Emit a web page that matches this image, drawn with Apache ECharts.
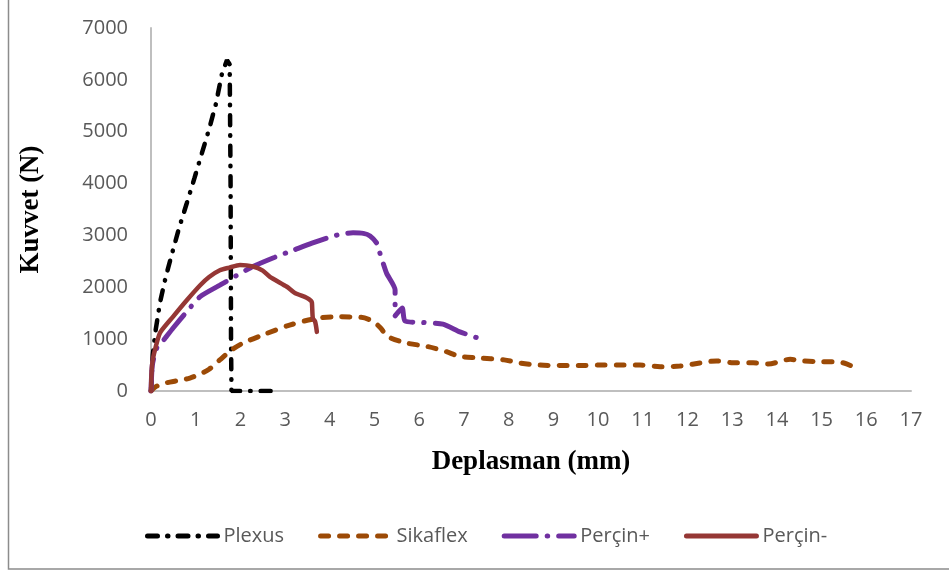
<!DOCTYPE html>
<html>
<head>
<meta charset="utf-8">
<script src="https://cdn.jsdelivr.net/npm/echarts@6/dist/echarts.min.js"></script>
<style>
  html, body { margin: 0; padding: 0; background: #fff; }
  #chart { width: 949px; height: 574px; }
</style>
</head>
<body>
<div id="chart"></div>
<script>
// Force–displacement curves (Kuvvet vs Deplasman)
const seriesNames = ['Plexus', 'Sikaflex', 'Perçin+', 'Perçin-'];

const plexusX = [0, 0.04, 0.1, 0.2, 0.33, 0.47, 0.63, 0.8, 0.97, 1.14, 1.3, 1.45, 1.59, 1.7, 1.76, 1.78, 1.79, 1.8, 2.3, 2.8];
const plexusY = [0, 700, 1150, 1700, 2200, 2650, 3150, 3620, 4100, 4590, 5050, 5530, 6130, 6380, 6300, 4000, 1000, 0, 0, 0];

const sikaflexX = [0, 0.1, 0.31, 0.6, 0.87, 1.1, 1.3, 1.54, 1.8, 2.06, 2.5, 3.1, 3.7, 4.2, 4.7, 4.95, 5.12, 5.3, 5.72, 6.17, 6.6, 6.9, 7.3, 7.9, 8.25, 8.7, 9.15, 9.6, 10.04, 10.5, 10.94, 11.39, 11.83, 12.28, 12.65, 13.02, 13.47, 13.8, 14.3, 14.52, 14.97, 15.26, 15.5, 15.75];
const sikaflexY = [0, 80, 150, 200, 250, 330, 420, 600, 790, 925, 1080, 1270, 1400, 1430, 1420, 1350, 1230, 1050, 925, 860, 760, 670, 640, 600, 540, 500, 490, 490, 500, 500, 500, 470, 480, 540, 580, 545, 545, 520, 610, 585, 565, 565, 540, 450];

const percinPlusX = [0, 0.03, 0.13, 0.3, 0.49, 0.8, 1.1, 1.54, 1.9, 2.28, 2.77, 3.2, 3.6, 4.04, 4.3, 4.52, 4.75, 4.9, 5.05, 5.12, 5.27, 5.46, 5.46, 5.62, 5.68, 6.09, 6.53, 6.91, 7.32];
const percinPlusY = [0, 500, 830, 1000, 1210, 1530, 1820, 2040, 2220, 2400, 2580, 2720, 2850, 2980, 3030, 3050, 3040, 2990, 2850, 2660, 2270, 1950, 1450, 1600, 1350, 1320, 1290, 1140, 1020];

const percinMinusX = [0, 0.01, 0.03, 0.07, 0.2, 0.49, 0.8, 1.1, 1.3, 1.54, 1.75, 1.99, 2.28, 2.5, 2.66, 3.04, 3.22, 3.48, 3.58, 3.6, 3.62, 3.67, 3.71];
const percinMinusY = [0, 300, 550, 730, 1120, 1430, 1750, 2040, 2200, 2330, 2380, 2430, 2400, 2320, 2200, 2010, 1890, 1800, 1740, 1700, 1400, 1340, 1140];

const pairs = (xs, ys) => xs.map((x, i) => [x, ys[i]]);

const labelFont = '"Open Sans", "Noto Sans", sans-serif';
const titleFont = '"Liberation Serif", "DejaVu Serif", serif';

const chart = echarts.init(document.getElementById('chart'), null, { renderer: 'canvas' });

chart.setOption({
  backgroundColor: '#ffffff',
  animation: false,
  graphic: [{
    type: 'rect',
    shape: { x: 8.5, y: -3, width: 960, height: 572 },
    style: { fill: 'none', stroke: '#8c8c8c', lineWidth: 1.5 },
    silent: true
  }],
  grid: { left: 151, right: 38, top: 28, bottom: 183 },
  legend: {
    left: 140,
    top: 521,
    itemWidth: 70,
    itemHeight: 16,
    itemGap: 34,
    itemStyle: { opacity: 0 },
    lineStyle: { width: 5, cap: 'round' },
    textStyle: { fontFamily: labelFont, fontSize: 20, color: '#595959', padding: [0, 0, 0, 1] },
    data: seriesNames
  },
  xAxis: {
    type: 'value',
    min: 0, max: 17, interval: 1,
    name: 'Deplasman (mm)',
    nameLocation: 'middle',
    nameGap: 58,
    nameTextStyle: { fontFamily: titleFont, fontWeight: 'bold', fontSize: 27, color: '#000' },
    axisLine: { show: true, lineStyle: { color: '#bfbfbf', width: 2 } },
    axisTick: { show: false },
    splitLine: { show: false },
    axisLabel: { margin: 19, fontFamily: labelFont, fontSize: 20, color: '#595959' }
  },
  yAxis: {
    type: 'value',
    min: 0, max: 7000, interval: 1000,
    name: 'Kuvvet (N)',
    nameLocation: 'middle',
    nameGap: 106,
    nameRotate: 90,
    nameTextStyle: { fontFamily: titleFont, fontWeight: 'bold', fontSize: 27, color: '#000' },
    axisLine: { show: true, lineStyle: { color: '#bfbfbf', width: 2 } },
    axisTick: { show: false },
    splitLine: { show: false },
    axisLabel: {
      margin: 23, fontFamily: labelFont, fontSize: 20, color: '#595959',
      formatter: (v) => String(v)
    }
  },
  series: [
    {
      name: 'Plexus', type: 'line', symbol: 'none', smooth: false,
      data: pairs(plexusX, plexusY),
      itemStyle: { color: '#000000' },
      lineStyle: { color: '#000000', width: 4.5, type: [10, 10, 0.5, 10], cap: 'round' }
    },
    {
      name: 'Sikaflex', type: 'line', symbol: 'none', smooth: 0.3,
      data: pairs(sikaflexX, sikaflexY),
      itemStyle: { color: '#9c4a06' },
      lineStyle: { color: '#9c4a06', width: 5, type: [8, 11], cap: 'round' }
    },
    {
      name: 'Perçin+', type: 'line', symbol: 'none', smooth: 0.2,
      data: pairs(percinPlusX, percinPlusY),
      itemStyle: { color: '#7030a0' },
      lineStyle: { color: '#7030a0', width: 5, type: [32, 11, 0.5, 11], cap: 'round' }
    },
    {
      name: 'Perçin-', type: 'line', symbol: 'none', smooth: 0.2,
      data: pairs(percinMinusX, percinMinusY),
      itemStyle: { color: '#953735' },
      lineStyle: { color: '#953735', width: 4.5, type: 'solid', cap: 'round' }
    }
  ]
});
</script>
</body>
</html>
